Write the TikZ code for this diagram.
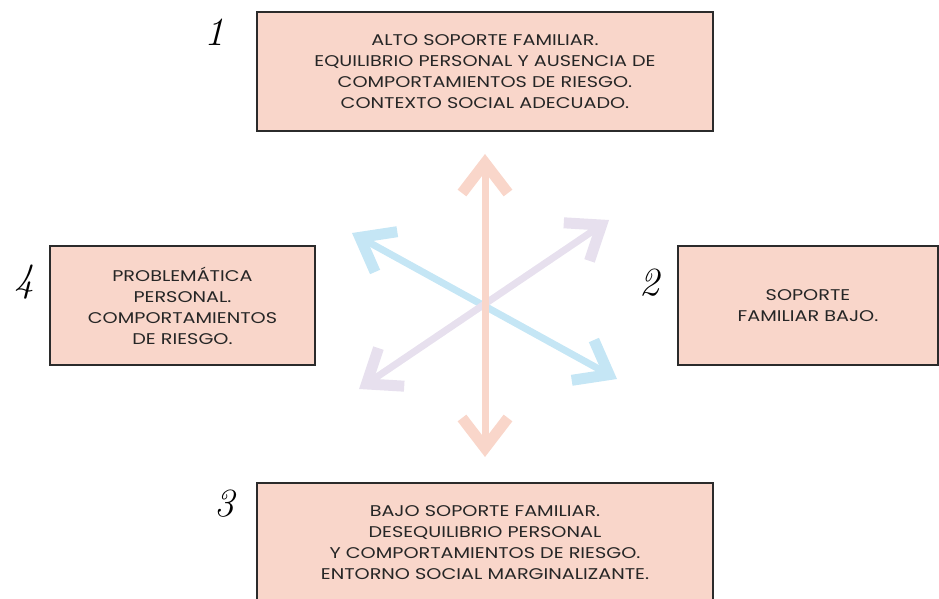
\documentclass[tikz,border=0pt]{standalone}
\usepackage{fontspec}
\setsansfont{Poppins}[FakeStretch=1.24]
\usepackage{tikz}
\usetikzlibrary{positioning}
\usetikzlibrary{arrows.meta, calc}

\definecolor{salmon}{HTML}{F9D6CA}
\definecolor{celeste}{HTML}{C5E6F5}
\definecolor{lavanda}{HTML}{E7E0EE}
\definecolor{borde}{HTML}{2B2B2B}

\begin{document}
\begin{tikzpicture}[x=1pt,y=1pt,
    caja/.style={draw=borde, line width=2pt, fill=salmon, align=center,
        minimum height=119pt, inner sep=0pt, text=black!85,
        font=\sffamily\fontsize{15.5}{21}\selectfont},
    numero/.style={font=\itshape\fontsize{40}{40}\selectfont},
    flecha/.style={line width=7pt,
        {Straight Barb[sharp,length=30pt,width=46pt,line width=11pt]}-{Straight Barb[sharp,length=30pt,width=46pt,line width=11pt]}}]
    % frame of the page
    \clip (0,0) rectangle (939,598);
    \useasboundingbox (0,0) rectangle (939,598);

    % boxes
    \node[caja, minimum width=456pt] (alto) at (485,526.5) {ALTO SOPORTE FAMILIAR.\\ EQUILIBRIO PERSONAL Y AUSENCIA DE\\ COMPORTAMIENTOS DE RIESGO.\\ CONTEXTO SOCIAL ADECUADO.};
    \node[caja, minimum width=260pt] (soporte) at (808,292.5) {SOPORTE\\ FAMILIAR BAJO.};
    \node[caja, minimum width=456pt] (bajo) at (485,55.5) {BAJO SOPORTE FAMILIAR.\\ DESEQUILIBRIO PERSONAL\\ Y COMPORTAMIENTOS DE RIESGO.\\ ENTORNO SOCIAL MARGINALIZANTE.};
    \node[caja, minimum width=265pt] (problema) at (182.5,292.5) {PROBLEMÁTICA\\ PERSONAL.\\ COMPORTAMIENTOS\\ DE RIESGO.};

    % numbers
    \node[numero] (n1) at ($(alto.north west)+(-42,-21)$) {1};
    \node[numero] (n2) at ($(soporte.north west)+(-28,-38)$) {2};
    \node[numero] (n3) at ($(bajo.north west)+(-32,-22)$) {3};
    \node[numero] (n4) at ($(problema.north west)+(-25,-37)$) {4};

    % arrows
    \coordinate (arriba) at (485,444);
    \coordinate (abajo) at (485,141);
    \coordinate (ai) at (352,365);
    \coordinate (bd) at (617,219);
    \coordinate (ad) at (609,378);
    \coordinate (bi) at (359,209);
    \draw[flecha, draw=celeste] (ai) -- (bd);
    \draw[flecha, draw=lavanda] (bi) -- (ad);
    \draw[flecha, draw=salmon] (abajo) -- (arriba);
\end{tikzpicture}
\end{document}
